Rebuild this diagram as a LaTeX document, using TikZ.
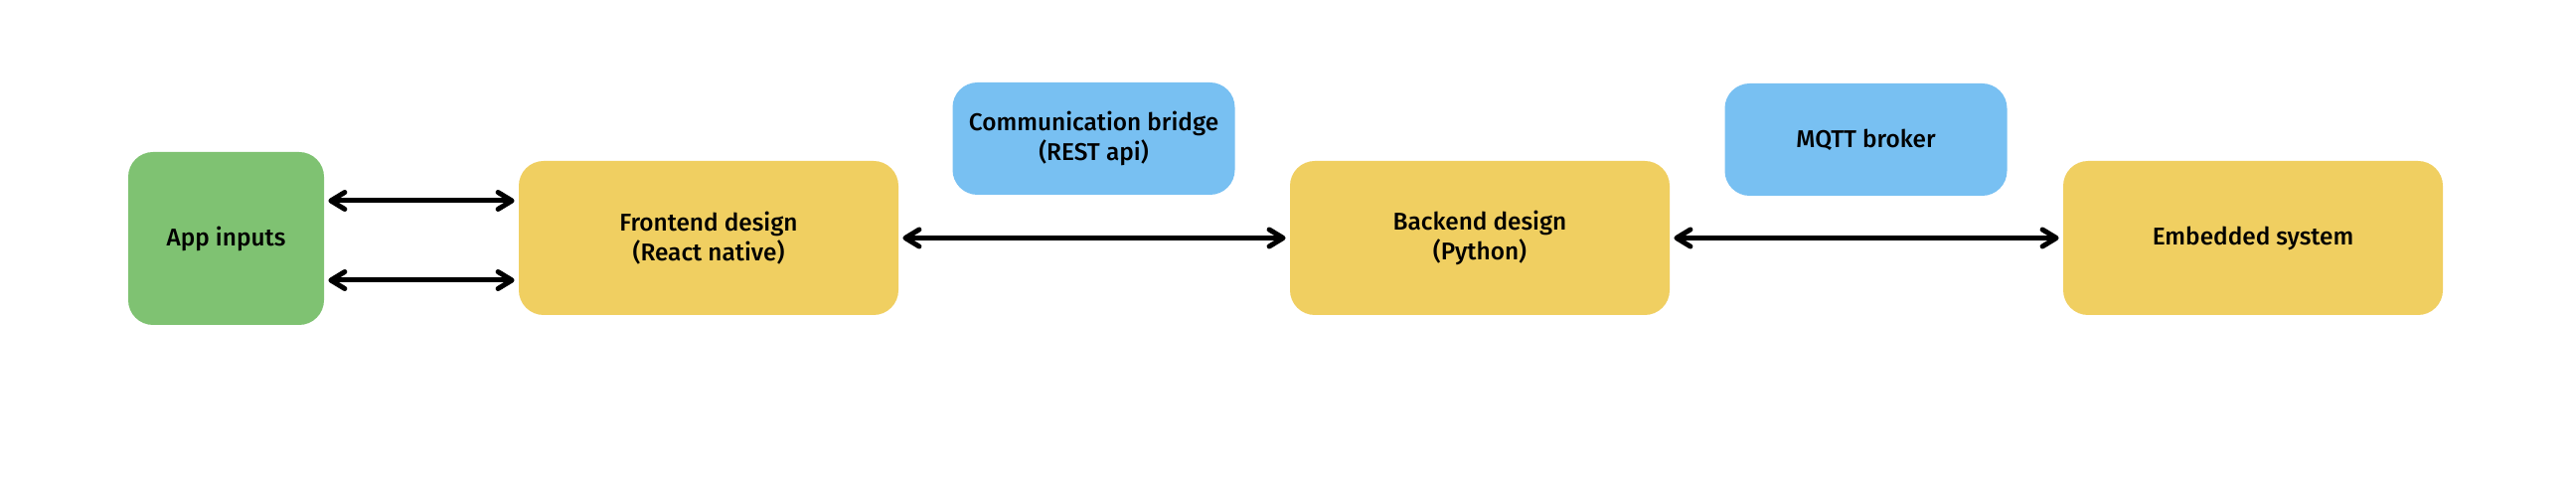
\documentclass[tikz,border=0pt]{standalone}
\usepackage{fontspec}
\setmainfont{Fira Sans}[BoldFont={Fira Sans Medium}]
\usetikzlibrary{arrows.meta}
\definecolor{boxgreen}{RGB}{127,194,114}
\definecolor{boxyellow}{RGB}{240,207,97}
\definecolor{boxblue}{RGB}{120,192,242}
\begin{document}
\begin{tikzpicture}[x=0.5pt,y=-0.5pt,
  box/.style={rounded corners=12.5pt, inner sep=0pt, align=center,
    font=\bfseries\fontsize{12.2}{15}\selectfont},
  bigbox/.style={box, fill=boxyellow, minimum width=191pt, minimum height=77.5pt},
  bluebox/.style={box, fill=boxblue, minimum width=142pt, minimum height=56.5pt},
  link/.style={line width=2.5pt, line cap=round,
    {Straight Barb[length=7pt,width=8.5pt,line cap=round,line join=round]}-{Straight Barb[length=7pt,width=8.5pt,line cap=round,line join=round]},
    shorten <=2pt, shorten >=2pt}
]
\useasboundingbox (0,0) rectangle (2592,480);
\fill[white] (0,0) rectangle (2592,480);
\node[box, fill=boxgreen, minimum width=98.5pt, minimum height=87pt] (app) at (227.5,240) {App inputs};
\node[bigbox] (front) at (713,239.5) {Frontend design\\(React native)};
\node[bigbox] (back) at (1489,239.5) {Backend design\\(Python)};
\node[bigbox] (emb) at (2267,239.5) {Embedded system};
\node[bluebox] (comm) at (1100.5,139.5) {Communication bridge\\(REST api)};
\node[bluebox] (mqtt) at (1877.5,140.5) {MQTT broker};
\draw[link] ([yshift=19pt]app.east) -- ([yshift=19pt]app.east -| front.west);
\draw[link] ([yshift=-21pt]app.east) -- ([yshift=-21pt]app.east -| front.west);
\draw[link] (front.east) -- (back.west);
\draw[link] (back.east) -- (emb.west);
\end{tikzpicture}
\end{document}
